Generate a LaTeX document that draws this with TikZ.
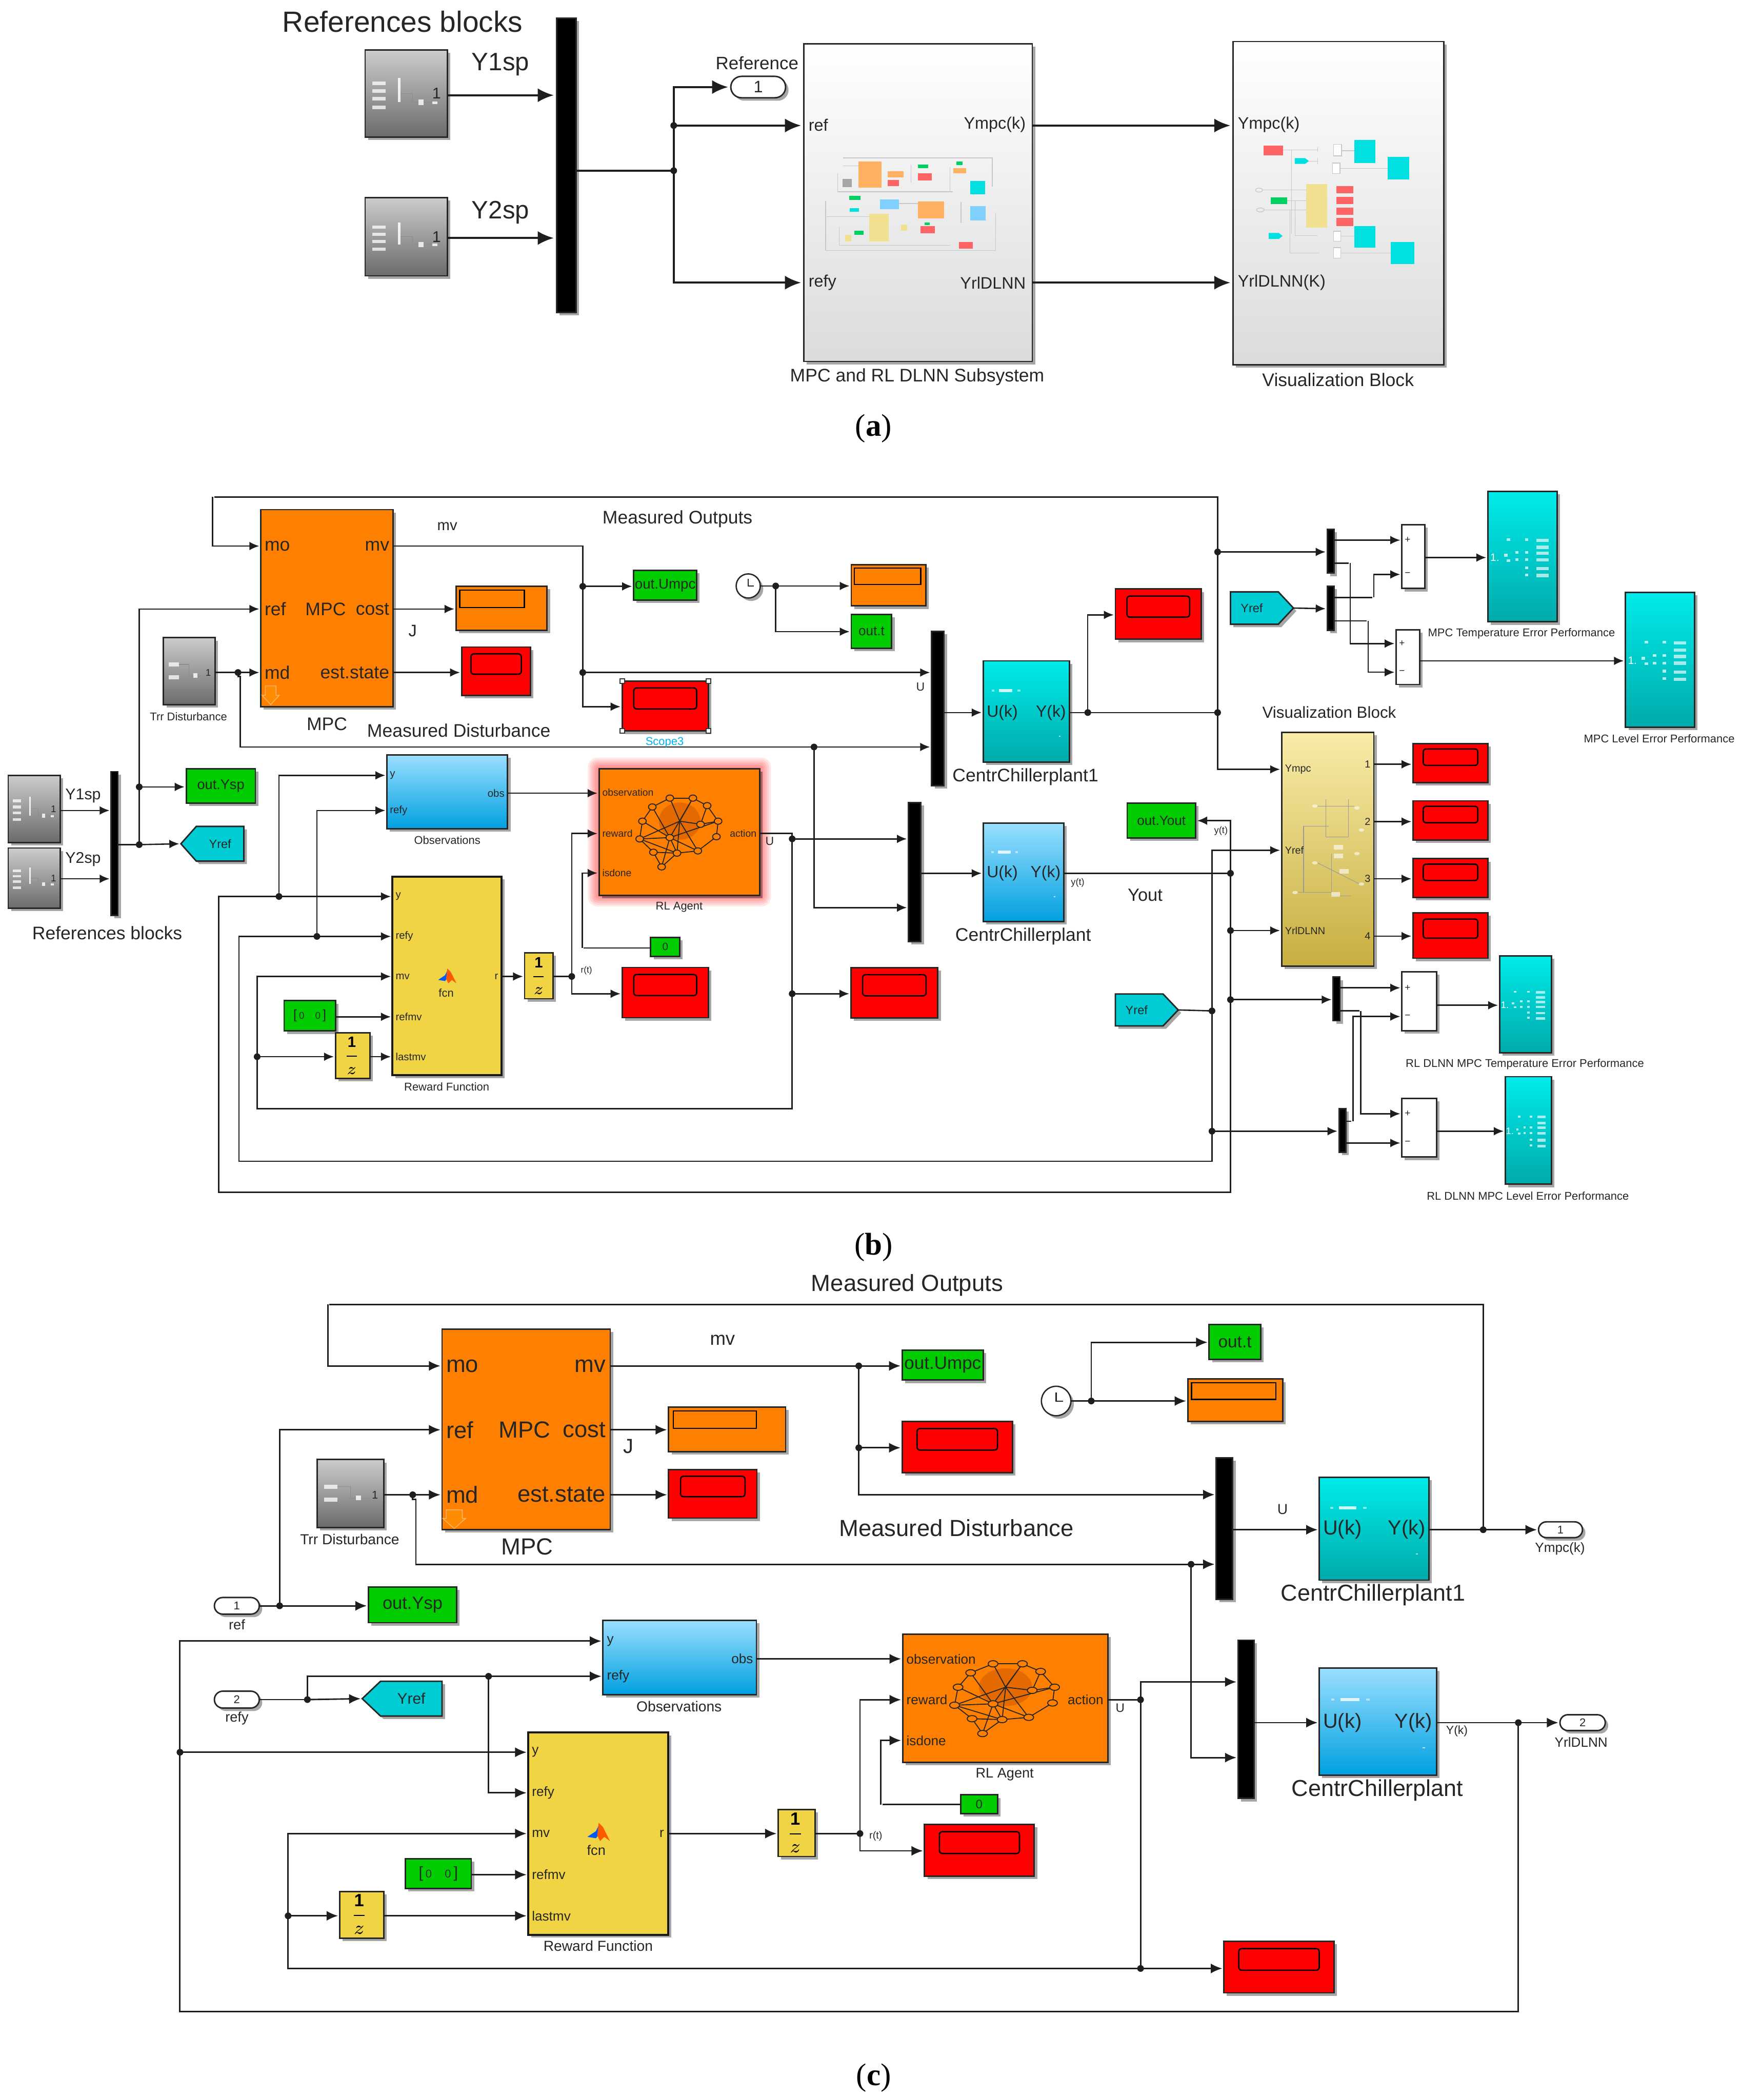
\documentclass[tikz,border=0pt]{standalone}
\usepackage{fontspec}
\setmainfont{Liberation Sans}
\newfontfamily\capf{Liberation Serif}
\usetikzlibrary{arrows.meta,shadows,shapes.misc,calc}
\definecolor{wirec}{HTML}{1E1E1E}
\definecolor{orgc}{HTML}{FF8000}
\definecolor{grnc}{HTML}{00CC00}
\definecolor{ylwc}{HTML}{F0D443}
\definecolor{gotoc}{HTML}{00CCD4}
\definecolor{cyt}{HTML}{00EBEB}
\definecolor{cyb}{HTML}{00AAAA}
\definecolor{blt}{HTML}{9ADFFF}
\definecolor{blb}{HTML}{00A0E0}
\definecolor{vit}{HTML}{F8ECA8}
\definecolor{vib}{HTML}{C8AE40}
\definecolor{thr}{HTML}{FF6464}
\definecolor{tho}{HTML}{FFB060}
\definecolor{thg}{HTML}{00D060}
\definecolor{thc}{HTML}{00E0E0}
\definecolor{thb}{HTML}{80D0FF}
\definecolor{thy}{HTML}{F0E090}
\definecolor{brd}{HTML}{D86000}
\newcommand\fs[1]{\fontsize{#1pt}{#1pt}\selectfont}
\tikzset{
  x=0.5pt,y=-0.5pt,
  shd/.style={drop shadow={shadow xshift=1.1pt,shadow yshift=-1.1pt,opacity=.35,fill=black}},
  blk/.style={draw=black!85,line width=.55pt,shd,inner sep=0pt,outer sep=0pt,text=black!85},
  graybk/.style={blk,top color=black!20,bottom color=black!58},
  cyanbk/.style={blk,top color=cyt,bottom color=cyb},
  bluebk/.style={blk,top color=blt,bottom color=blb},
  visbk/.style={blk,top color=vit,bottom color=vib},
  subbk/.style={blk,top color=white,bottom color=black!14},
  orgbk/.style={blk,fill=orgc},
  redbk/.style={blk,fill=red},
  grnbk/.style={blk,fill=grnc},
  ylwbk/.style={blk,fill=ylwc},
  whtbk/.style={blk,fill=white},
  busbk/.style={blk,fill=black},
  pill/.style={blk,fill=white,rounded rectangle},
  clk/.style={draw=black!85,line width=.5pt,fill=white,circle,shd,inner sep=0pt,outer sep=0pt},
  hnd/.style={draw=black!80,line width=.4pt,fill=white},
  faint/.style={draw=black!22,line width=.25pt},
}
\newcounter{tn}
\newcommand\tx[5]{\stepcounter{tn}\node[anchor=#3,inner sep=0pt,outer sep=0pt,text=black!85,font=\fs{#4}] (t\the\value{tn}) at (#1,#2) {#5};}
% [text]{name}{x1}{y1}{x2}{y2}{style}
\newcommand\bx[7][]{\node[#7,minimum width={(#5-#3)*0.5pt},minimum height={(#6-#4)*0.5pt}] (#2) at ({(#3+#5)/2},{(#4+#6)/2}) {#1};}
\newcommand\jn[3]{\coordinate (#1) at (#2,#3);\fill[wirec] (#1) circle[radius=1.25pt];}
\newcommand\oneoverz{$\displaystyle\frac{\mathbf{1}}{z}$}
% red display
\newcommand\rs[5]{\bx{#1}{#2}{#3}{#4}{#5}{redbk}
  \begin{scope}[shift={(#2,#3)},xscale={#4-#2},yscale={#5-#3}]
  \draw[black,line width=.5pt,rounded corners=1.1pt] (.135,.14) rectangle (.865,.56);
  \end{scope}}
% orange display: right fraction
\newcommand\os[6]{\bx{#1}{#2}{#3}{#4}{#5}{orgbk}
  \begin{scope}[shift={(#2,#3)},xscale={#4-#2},yscale={#5-#3}]
  \draw[black,line width=.45pt] (.04,.085) rectangle (#6,.48);
  \end{scope}}
% signal-builder block, 4 bars
\newcommand\gfour[6]{\bx{#1}{#2}{#3}{#4}{#5}{graybk}
  \begin{scope}[shift={(#2,#3)},xscale={#4-#2},yscale={#5-#3}]
  \foreach \yy in {.36,.45,.54,.64}{\fill[white,opacity=.75] (.09,\yy) rectangle (.25,\yy+.04);}
  \fill[white,opacity=.85] (.40,.32) rectangle (.43,.6);
  \draw[black!45,line width=.2pt] (.43,.5) -- (.58,.5) -- (.58,.6) -- (.8,.6);
  \fill[white,opacity=.8] (.65,.57) rectangle (.71,.63);
  \fill[white,opacity=.8] (.82,.59) rectangle (.88,.62);
  \node[inner sep=0pt,font=\fs{#6},text=black!85] (#1n) at (.87,.5) {1};
  \end{scope}}
% signal-builder block, 2 bars
\newcommand\gtwo[6]{\bx{#1}{#2}{#3}{#4}{#5}{graybk}
  \begin{scope}[shift={(#2,#3)},xscale={#4-#2},yscale={#5-#3}]
  \fill[white,opacity=.75] (.1,.37) rectangle (.3,.43);
  \fill[white,opacity=.75] (.1,.56) rectangle (.3,.62);
  \draw[black!45,line width=.2pt] (.3,.4) -- (.5,.4) -- (.5,.57) -- (.8,.57);
  \fill[white,opacity=.8] (.58,.53) rectangle (.66,.6);
  \node[inner sep=0pt,font=\fs{#6},text=black!85] (#1n) at (.87,.52) {1};
  \end{scope}}
% scope block with icon
\newcommand\cs[6]{\bx{#1}{#2}{#3}{#4}{#5}{cyanbk}
  \begin{scope}[shift={(#2,#3)},xscale={#4-#2},yscale={#5-#3}]
  \foreach \yy in {.363,.417,.464,.514,.579,.633}{\fill[white,opacity=.65] (.7,\yy) rectangle (.88,\yy+.024);}
  \foreach \xx/\yy in {.3/.37,.56/.37,.42/.47,.56/.47,.26/.49,.3/.53,.42/.525,.56/.525,.56/.585,.56/.64}{\fill[white,opacity=.7] (\xx-.025,\yy-.01) rectangle (\xx+.025,\yy+.01);}
  \node[inner sep=0pt,font=\fs{#6},text=white] (#1n) at (.1,.507) {1.};
  \end{scope}}
% plant block
\newcommand\pl[6]{\bx{#1}{#2}{#3}{#4}{#5}{#6}
  \begin{scope}[shift={(#2,#3)},xscale={#4-#2},yscale={#5-#3}]
  \fill[white,opacity=.8] (.18,.28) rectangle (.34,.31);
  \fill[white,opacity=.5] (.1,.285) rectangle (.13,.305);
  \fill[white,opacity=.5] (.4,.285) rectangle (.43,.305);
  \fill[white,opacity=.7] (.88,.74) rectangle (.9,.75);
  \end{scope}}
% brain network
\newcommand\brain[4]{\begin{scope}[shift={(#1,#2)},xscale={(#3-#1)/293},yscale={(#4-#2)/285},shift={(-1093,-672)}]
  \fill[brd,opacity=.7] (1240,790) ellipse (38 and 42);
  \foreach \nm/\xx/\yy in {1/1190/758,2/1222/738,3/1264/738,4/1290/755,5/1310/790,6/1307/825,7/1273/857,8/1235/862,9/1192/860,10/1167/830,11/1172/790,12/1222/827,13/1278/797,14/1207/893,15/1240/790}{\coordinate (nn\nm) at (\xx,\yy);}
  \foreach \aa/\bb in {1/2,2/3,3/4,4/5,5/6,6/7,7/8,8/9,9/10,10/11,11/1,1/12,11/12,3/12,12/14,8/14,9/14,12/7,12/8,10/12,10/8,15/7,15/13,13/5,2/15,3/15,15/8,15/10,5/12,4/13}{\draw[black!85,line width=.35pt] (nn\aa) -- (nn\bb);}
  \foreach \nm in {1,...,14}{\draw[black!85,line width=.35pt,fill=orgc] (nn\nm) ellipse (7 and 7);}
  \end{scope}}
% MATLAB icon
\newcommand\mlicon[3]{\begin{scope}[shift={(#1,#2)},scale=#3]
  \fill[blue!65!cyan] (-8,3) -- (-2,-1) -- (0,-5) -- (2,-1) -- (-2,4) -- cycle;
  \fill[orange!70!red] (0,-7) -- (3,-4) -- (8,6) -- (4,3) -- (1,6) -- (-1,2) -- cycle;
  \end{scope}}
% goto tags
\newcommand\gtl[7]{\filldraw[blk,fill=gotoc] (#2,{(#3+#5)/2}) -- (#6,#3) -- (#4,#3) -- (#4,#5) -- (#6,#5) -- cycle;
  \coordinate (#1t) at (#2,{(#3+#5)/2});
  \node[inner sep=0pt,font=\fs{#7},text=black!85] (#1) at ({(#6+#4)/2},{(#3+#5)/2}) {Yref};}
\newcommand\gtr[7]{\filldraw[blk,fill=gotoc] (#4,{(#3+#5)/2}) -- (#6,#3) -- (#2,#3) -- (#2,#5) -- (#6,#5) -- cycle;
  \coordinate (#1t) at (#4,{(#3+#5)/2});
  \node[inner sep=0pt,font=\fs{#7},text=black!85] (#1) at ({(#6+#2)/2-2},{(#3+#5)/2}) {Yref};}
\begin{document}
\begin{tikzpicture}
\fill[white] (0,0) rectangle (1299,1567.6);
\useasboundingbox (0,0) rectangle (1299,1567.6);

%================= PANEL A
\begin{scope}[w/.style={line width=.8pt,draw=wirec,shorten >=1pt},>={Latex[length=6pt,width=5.2pt]}]
\gfour{ga1}{272.5}{37.4}{333.8}{102.3}{5.8}
\gfour{ga2}{272.5}{147.5}{333.8}{205.9}{5.8}
\bx{busa}{415.3}{13.6}{430}{233.2}{busbk}
\bx{suba}{599.8}{32.7}{770.4}{269.8}{subbk}
\bx{visa}{920.2}{31}{1077.4}{272.2}{subbk}
\bx[\fs{6.2}1]{pa}{545.4}{57}{586.3}{73}{pill}
% thumbnail of the subsystem
\begin{scope}[shift={(183.3,0)},xscale=.4091,yscale=.1948]
 \draw[faint] (1090,605) -- (1362,605) -- (1362,715);
 \draw[faint] (1214,630) -- (1214,700);
 \draw[faint] (1090,636) -- (1118,636);
 \draw[faint] (1080,665) -- (1080,735) -- (1290,735);
 \draw[faint] (1058,770) -- (1058,960) -- (1368,960) -- (1368,815);
 \draw[faint] (1285,640) -- (1285,735);
 \draw[faint] (1305,775) -- (1305,855);
 \draw[faint] (1083,870) -- (1083,940) -- (1285,940);
 \draw[faint] (1060,830) -- (1138,830);
 \draw[faint] (1192,780) -- (1226,780);
 \foreach \a/\b/\c/\d in {1118/618/1160/720,1171/657/1200/680,1291/645/1314/665,1226/772/1274/836}{\fill[tho] (\a,\b) rectangle (\c,\d);}
 \foreach \a/\b/\c/\d in {1226/665/1252/691,1171/690/1192/713,1231/867/1257/893,1301/927/1327/952}{\fill[thr] (\a,\b) rectangle (\c,\d);}
 \foreach \a/\b/\c/\d in {1226/630/1245/644,1297/618/1308/632,1101/750/1122/766,1110/885/1127/899,1239/853/1248/862}{\fill[thg] (\a,\b) rectangle (\c,\d);}
 \foreach \a/\b/\c/\d in {1322/693/1349/745,1102/797/1119/812}{\fill[thc] (\a,\b) rectangle (\c,\d);}
 \foreach \a/\b/\c/\d in {1157/764/1192/802,1322/790/1350/845}{\fill[thb] (\a,\b) rectangle (\c,\d);}
 \foreach \a/\b/\c/\d in {1138/820/1173/925,1196/860/1207/885,1094/900/1105/925}{\fill[thy] (\a,\b) rectangle (\c,\d);}
 \fill[black!35] (1089,685) rectangle (1106,718);
\end{scope}
% thumbnail of the visualization block
\begin{scope}[shift={(733.2,15.3)},xscale=.2338,yscale=.1851]
 \draw[faint] (960,522) -- (1070,522);
 \draw[faint] (987,522) -- (987,860);
 \draw[faint] (895,684) -- (1033,684);
 \draw[faint] (972,727) -- (1033,727);
 \draw[faint] (900,764) -- (1033,764);
 \draw[faint] (982,764) -- (982,938) -- (1076,938);
 \draw[faint] (998,727) -- (998,868) -- (1070,868);
 \draw[faint] (1042,567) -- (1070,567);
 \draw[faint] (1144,525) -- (1187,525);
 \draw[faint] (1141,597) -- (1294,597);
 \draw[faint] (1144,870) -- (1187,870);
 \draw[faint] (1144,938) -- (1303,938);
 \draw[faint] (1070,510) -- (1070,530);
 \draw[faint] (1070,555) -- (1070,580);
 \foreach \a/\b/\c/\d in {897/504/960/543,1129/667/1184/697,1129/712/1184/740,1129/755/1184/783,1129/797/1184/829}{\fill[thr] (\a,\b) rectangle (\c,\d);}
 \foreach \a/\b/\c/\d in {1187/482/1254/575,1294/551/1362/642,1187/829/1254/916,1303/893/1379/983}{\fill[thc] (\a,\b) rectangle (\c,\d);}
 \fill[thc] (997,555) -- (1030,555) -- (1042,567) -- (1030,578) -- (997,578) -- cycle;
 \fill[thc] (914,857) -- (946,857) -- (958,869) -- (946,881) -- (914,881) -- cycle;
 \fill[thy] (1033,660) rectangle (1101,836);
 \fill[thg] (921,713) rectangle (972,740);
 \foreach \a/\b/\c/\d in {1121/500/1146/546,1118/575/1141/617,1121/850/1144/890,1121/916/1144/958}{\filldraw[faint,fill=white] (\a,\b) rectangle (\c,\d);}
 \draw[faint] (883,684) ellipse (11 and 8);
 \draw[faint] (887,764) ellipse (12 and 8);
\end{scope}
\jn{ja1}{502.8}{127.4}
\jn{ja2}{502.8}{93.7}
\draw[w,->] (ga1.east|-0,71.1) -- (busa.west|-0,71.1);
\draw[w,->] (ga2.east|-0,177.7) -- (busa.west|-0,177.7);
\draw[w] (busa.east|-ja1) -- (ja1);
\draw[w] (ja1) -- (ja2);
\draw[w,->] (ja2) |- (pa.west);
\draw[w,->] (ja2) -- (suba.west|-ja2);
\draw[w,->] (ja1) |- (suba.west|-0,211);
\draw[w,->] (suba.east|-0,93.7) -- (visa.west|-0,93.7);
\draw[w,->] (suba.east|-0,211) -- (visa.west|-0,211);
\tx{300.5}{16}{center}{10.9}{References blocks}
\tx{373.5}{48.3}{center}{9.4}{Y1sp}
\tx{373.5}{158.8}{center}{9.4}{Y2sp}
\tx{565}{47}{center}{6.7}{Reference}
\tx{603.5}{93.2}{west}{6.2}{ref}
\tx{603.5}{211}{west}{6.2}{refy}
\tx{765.5}{93.2}{east}{6.2}{Ympc(k)}
\tx{765.5}{211}{east}{6.2}{YrlDLNN}
\tx{684.5}{281.5}{center}{6.8}{MPC and RL DLNN Subsystem}
\tx{923.8}{93.2}{west}{6.2}{Ympc(k)}
\tx{923.8}{211}{west}{6.2}{YrlDLNN(K)}
\tx{998.6}{283.7}{center}{6.8}{Visualization Block}
\stepcounter{tn}\node[font=\capf\fs{11.7},inner sep=0pt] (capa) at (652,320) {(\textbf{a})};
\end{scope}

%================= PANEL B
\begin{scope}[w/.style={line width=.5pt,draw=wirec,shorten >=.6pt},>={Latex[length=3.7pt,width=3.2pt]}]
\bx{mpcb}{194.7}{380.4}{293.3}{527.5}{orgbk}
\fill[orange!70!red!70!yellow,draw=orange!60!white,line width=.3pt] (198,512) -- (198,519) -- (195.5,519) -- (202,526) -- (208.5,519) -- (206,519) -- (206,512) -- cycle;
\bx[\fs{5.3}out.Umpc]{umpcb}{472.9}{425.8}{520}{448}{grnbk}
\rs{scope3}{464.3}{508.3}{528.6}{545.7}
\foreach \xx/\yy in {464.3/508.3,528.6/508.3,464.3/545.7,528.6/545.7}{\filldraw[hnd] (\xx-1.7,\yy-1.7) rectangle (\xx+1.7,\yy+1.7);}
\os{jdb}{340.4}{437.7}{408.3}{470.5}{.75}
\rs{estb}{344.5}{483}{396}{519.2}
\gtwo{trrb}{122}{476}{160.4}{526}{3.6}
\node[clk,minimum size=18*.5pt] (clkb) at (558.4,437.4) {};
\draw[black!85,line width=.35pt] (clkb.center) ++(0,-5.5) -- (clkb.center) -- ++(4,0);
\os{odb}{635.3}{421.4}{691}{452.3}{.93}
\bx[\fs{5}out.t]{outtb}{635.3}{458.6}{665.5}{483.9}{grnbk}
\gfour{g1b}{6.1}{578.8}{45}{628.9}{3.6}
\gfour{g2b}{6.1}{633}{45}{677.9}{3.6}
\bx{busrb}{83}{576}{88}{683.2}{busbk}
\bx[\fs{5.2}out.Ysp]{yspb}{139}{573.9}{190.6}{599.4}{grnbk}
\gtl{yrb}{135}{616.9}{182}{642.8}{146.5}{4.5}
\bx{obsb}{288.8}{563.6}{378.8}{618.6}{bluebk}
\foreach \ii in {6,5,4,3,2,1}{\fill[red,opacity=.09,rounded corners=\ii*.6pt] (447.1-\ii*1.4,573.9-\ii*1.4) rectangle (567+\ii*1.4,668.3+\ii*1.4);}
\bx{rlb}{447.1}{573.9}{567}{668.3}{orgbk}
\brain{447.1}{573.9}{567}{668.3}
\bx{rwdb}{292.9}{654.3}{374.3}{802.7}{ylwbk}
\draw[black!90,line width=.8pt] (292.9,654.3) rectangle (374.3,802.7);
\mlicon{333.8}{728.9}{.85}
\bx{d2b}{391.5}{711.3}{412.8}{745.5}{ylwbk}
\node[inner sep=0pt,font=\fs{5.6}] (d2bt) at (402,728.4) {\oneoverz};
\rs{red3b}{464.3}{722.2}{528.6}{759.7}
\bx[\fs{3.9}0]{zerob}{485.6}{699.7}{507.3}{714}{grnbk}
\bx[\fs{4.8}{[\,{\color{black!80}\fs{3.6}0}\;\;\;{\color{black!80}\fs{3.6}0}\,]}]{constb}{212}{747}{250.4}{769.6}{grnbk}
\bx{delayb}{250.4}{771}{276}{805}{ylwbk}
\node[inner sep=0pt,font=\fs{5.6}] (delaybt) at (262.5,788) {\oneoverz};
\rs{red4b}{635}{722.3}{699.9}{759.9}
\bx{busub}{695.3}{471.2}{704.5}{586.6}{busbk}
\pl{plant1b}{733.8}{493.3}{798}{568.8}{cyanbk}
\rs{rd5b}{832.4}{439.7}{896.5}{477.2}
\bx{bus2b}{678}{599.2}{687.3}{702.7}{busbk}
\pl{plantb}{733.8}{614.3}{793.8}{688}{bluebk}
\bx[\fs{5}out.Yout]{youtb}{841.2}{599.6}{892.3}{625.6}{grnbk}
\bx{visb}{956.5}{546.6}{1025.3}{721.3}{visbk}
\begin{scope}[shift={(641.6,351.3)},xscale=.4193,yscale=.3507]
 \draw[black!40,line width=.2pt] (790,898) -- (790,757) -- (835,757);
 \draw[black!40,line width=.2pt] (830,700) -- (830,780) -- (870,780) -- (870,700);
 \draw[black!40,line width=.2pt] (815,714) -- (880,714);
 \draw[black!40,line width=.2pt] (840,815) -- (840,905) -- (875,905);
 \draw[black!40,line width=.2pt] (780,898) -- (840,898);
 \draw[black!40,line width=.2pt] (815,835) -- (890,880);
 \foreach \a/\b in {852/802,852/820,862/853,847/902}{\fill[white,opacity=.6] (\a-8,\b-5) rectangle (\a+8,\b+5);}
 \foreach \a/\b in {810/714,885/718,893/765,885/815,893/880,775/898,810/835}{\fill[white,opacity=.6] (\a,\b) ellipse (5 and 3.5);}
\end{scope}
\rs{r1b}{1054.6}{555}{1110.4}{584.2}
\rs{r2b}{1054.6}{597.8}{1110.4}{627}
\rs{r3b}{1054.6}{641}{1110.4}{670}
\rs{r4b}{1054.6}{681.3}{1110.4}{715.3}
\bx{busAb}{990.5}{395.1}{995.5}{427.8}{busbk}
\bx{busBb}{990.5}{437.6}{995.5}{470.5}{busbk}
\gtr{yr1b}{918.3}{441.8}{965.3}{466}{954}{4.5}
\bx{sum1b}{1046.2}{391.6}{1063.4}{439.3}{whtbk}
\bx{sum2b}{1042}{470.2}{1059.6}{510.9}{whtbk}
\cs{c1b}{1110.4}{366.7}{1162}{464.2}{4}
\cs{c2b}{1213.1}{442.1}{1264.7}{542.8}{4}
\gtr{yr2b}{832.4}{742}{879.3}{765.8}{868}{4.5}
\bx{busCb}{995}{729.4}{1000}{762}{busbk}
\bx{busDb}{999.3}{827.6}{1004.3}{860.2}{busbk}
\bx{sum3b}{1046.2}{725.5}{1072.2}{769.3}{whtbk}
\bx{sum4b}{1046.2}{819.8}{1072.2}{863.7}{whtbk}
\cs{c3b}{1119.2}{713.6}{1157.8}{785.8}{3.5}
\cs{c4b}{1123.4}{803.7}{1157.8}{884}{3.5}
% junctions
\jn{jb1}{908.7}{412}\jn{jb2}{908.7}{531.9}\jn{jb3}{434.9}{437.7}\jn{jb4}{434.9}{502}
\jn{jb5}{177.6}{502}\jn{jb6}{607.5}{557.6}\jn{jb7}{103.9}{587.4}\jn{jb8}{103.9}{630.5}
\jn{jb9}{208.2}{669.2}\jn{jb10}{236.5}{699}\jn{jb11}{918.3}{651.9}\jn{jb12}{918.3}{694.6}
\jn{jb13}{918.3}{746.2}\jn{jb14}{904.5}{754.6}\jn{jb15}{904.5}{844.4}\jn{jb16}{191.9}{788.8}
\jn{jb17}{591.2}{626.2}\jn{jb18}{591.2}{741.8}\jn{jb19}{426.7}{728.9}\jn{jb20}{811.8}{531.9}
\jn{jb21}{578.9}{437.4}
\coordinate (tb1) at (908.7,371);\coordinate (tb2) at (158.7,371);
\coordinate (cb1) at (918.3,890);\coordinate (cb2) at (163.2,890);
\coordinate (cb3) at (904.5,866.8);\coordinate (cb4) at (178.4,866.8);
\coordinate (cb5) at (434.5,707.7);\coordinate (cb6) at (591.2,827.6);\coordinate (cb7) at (191.9,827.6);
\coordinate (ca1) at (1007.7,420.4);\coordinate (ca2) at (1025.3,446);\coordinate (ca3) at (1021,463.5);
\coordinate (ca4) at (1015.6,754.6);\coordinate (ca5) at (1009.7,837);
% wires
\draw[w] (jb2) -- (tb1) -- (tb2);
\draw[w,->] (tb2) |- (mpcb.west|-0,407.6);
\draw[w,->] (jb2) |- (visb.west|-0,574.3);
\draw[w] (mpcb.east|-0,407.6) -| (jb3);
\draw[w] (jb3) -- (jb4);
\draw[w,->] (jb4) |- (scope3.west|-0,527.5);
\draw[w,->] (jb3) -- (umpcb.west|-jb3);
\draw[w,->] (jb4) -- (busub.west|-jb4);
\draw[w,->] (mpcb.east|-0,454.6) -- (jdb.west|-0,454.6);
\draw[w,->] (mpcb.east|-0,502) -- (estb.west|-0,502);
\draw[w] (trrb.east|-jb5) -- (jb5);
\draw[w,->] (jb5) -- (mpcb.west|-jb5);
\draw[w] (jb5) -- ++(0,3) -- ++(1.6,0) |- (jb6);
\draw[w,->] (jb6) -- (busub.west|-jb6);
\draw[w,->] (jb6) |- (bus2b.west|-0,677.5);
\draw[w] (busrb.east|-jb8) -- (jb8);
\draw[w] (jb8) -- (jb7);
\draw[w,->] (jb7) |- (mpcb.west|-0,454.6);
\draw[w,->] (jb7) -- (yspb.west|-jb7);
\draw[w,->] (jb8) -- (yrbt);
\draw[w,->] (g1b.east|-0,605) -- (busrb.west|-0,605);
\draw[w,->] (g2b.east|-0,656) -- (busrb.west|-0,656);
\draw[w,->] (jb9) |- (obsb.west|-0,578.8);
\draw[w,->] (jb9) -- (rwdb.west|-jb9);
\draw[w] (plantb.east|-jb11) -- (jb11);
\draw[w,->] (jb11) |- (youtb.east|-0,612.6);
\draw[w] (jb11) -- (jb13);
\draw[w] (jb13) -- (cb1) -- (cb2) |- (jb9);
\draw[w,->] (jb12) -- (visb.west|-jb12);
\draw[w,->] (jb13) -- (busCb.west|-jb13);
\draw[w] (yr2bt) -- (jb14);
\draw[w,->] (jb14) |- (visb.west|-0,634.7);
\draw[w] (jb14) -- (jb15);
\draw[w,->] (jb15) -- (busDb.west|-jb15);
\draw[w] (jb15) -- (cb3) -- (cb4) |- (jb10);
\draw[w,->] (jb10) |- (obsb.west|-0,605);
\draw[w,->] (jb10) -- (rwdb.west|-jb10);
\draw[w] (rlb.east|-0,622.2) -| (jb17);
\draw[w,->] (jb17) -- (bus2b.west|-jb17);
\draw[w] (jb17) -- (jb18);
\draw[w,->] (jb18) -- (red4b.west|-jb18);
\draw[w] (jb18) -- (cb6) -- (cb7) -- (jb16);
\draw[w,->] (jb16) |- (rwdb.west|-0,728.9);
\draw[w,->] (jb16) -- (delayb.west|-jb16);
\draw[w,->] (delayb.east|-jb16) -- (rwdb.west|-jb16);
\draw[w,->] (constb.east|-0,759) -- (rwdb.west|-0,759);
\draw[w,->] (rwdb.east|-0,728.9) -- (d2b.west|-0,728.9);
\draw[w] (d2b.east|-jb19) -- (jb19);
\draw[w,->] (jb19) |- (rlb.west|-0,622.2);
\draw[w,->] (jb19) |- (red3b.west|-0,741.8);
\draw[w] (zerob.west|-cb5) -- (cb5);
\draw[w,->] (cb5) |- (rlb.west|-0,651.7);
\draw[w,->] (obsb.east|-0,592.1) -- (rlb.west|-0,592.1);
\draw[w,->] (busub.east|-0,531.9) -- (plant1b.west|-0,531.9);
\draw[w] (plant1b.east|-jb20) -- (jb20) -- (jb2);
\draw[w,->] (jb20) |- (rd5b.west|-0,459);
\draw[w,->] (bus2b.east|-jb11) -- (plantb.west|-jb11);
\draw[w,->] (jb1) -- (busAb.west|-jb1);
\draw[w] (clkb) -- (jb21);
\draw[w,->] (jb21) -- (odb.west|-jb21);
\draw[w,->] (jb21) |- (outtb.west|-0,471.5);
\draw[w,->] (visb.east|-0,570.5) -- (r1b.west|-0,570.5);
\draw[w,->] (visb.east|-0,613.3) -- (r2b.west|-0,613.3);
\draw[w,->] (visb.east|-0,656) -- (r3b.west|-0,656);
\draw[w,->] (visb.east|-0,698.8) -- (r4b.west|-0,698.8);
\draw[w,->] (busAb.east|-0,403.2) -- (sum1b.west|-0,403.2);
\draw[w] (busAb.east|-ca1) -- (ca1);
\draw[w,->] (ca1) |- (sum2b.west|-0,480.4);
\draw[w,->] (yr1bt) -- (busBb.west|-0,454.4);
\draw[w] (busBb.east|-ca2) -- (ca2);
\draw[w,->] (ca2) |- (sum1b.west|-0,428.8);
\draw[w] (busBb.east|-ca3) -- (ca3);
\draw[w,->] (ca3) |- (sum2b.west|-0,501.8);
\draw[w,->] (sum1b.east|-0,416.2) -- (c1b.west|-0,416.2);
\draw[w,->] (sum2b.east|-0,493.3) -- (c2b.west|-0,493.3);
\draw[w,->] (busCb.east|-0,737.4) -- (sum3b.west|-0,737.4);
\draw[w] (busCb.east|-ca4) -- (ca4);
\draw[w,->] (ca4) |- (sum4b.west|-0,831.4);
\draw[w] (busDb.east|-ca5) -- (ca5);
\draw[w,->] (ca5) |- (sum3b.west|-0,758.8);
\draw[w,->] (busDb.east|-0,853.2) -- (sum4b.west|-0,853.2);
\draw[w,->] (sum3b.east|-0,750.4) -- (c3b.west|-0,750.4);
\draw[w,->] (sum4b.east|-0,844.4) -- (c4b.west|-0,844.4);
% texts
\tx{197.5}{407.6}{west}{6.8}{mo}
\tx{197.5}{454.6}{west}{6.8}{ref}
\tx{197.5}{502}{west}{6.8}{md}
\tx{290.5}{407.6}{east}{6.8}{mv}
\tx{290.5}{454.6}{east}{6.8}{cost}
\tx{290.5}{502}{east}{6.8}{est.state}
\tx{243}{454.6}{center}{6.8}{MPC}
\tx{333.8}{393}{center}{5.6}{mv}
\tx{505.6}{387.4}{center}{6.8}{Measured Outputs}
\tx{308}{470.9}{center}{6.2}{J}
\tx{140.7}{534.8}{center}{4.2}{Trr Disturbance}
\tx{244}{540.4}{center}{6.8}{MPC}
\tx{342.4}{545.4}{center}{6.8}{Measured Disturbance}
\stepcounter{tn}\node[inner sep=0pt,font=\fs{4.2},text={rgb,255:red,0;green,176;blue,240}] (t\the\value{tn}) at (496,554.3) {Scope3};
\tx{62}{594}{center}{5.8}{Y1sp}
\tx{62}{641.4}{center}{5.8}{Y2sp}
\tx{80}{696.4}{center}{6.8}{References blocks}
\tx{291}{578.8}{west}{3.9}{y}
\tx{291}{605}{west}{3.9}{refy}
\tx{376.5}{592.1}{east}{3.9}{obs}
\tx{333.8}{627.2}{center}{4.2}{Observations}
\tx{449.5}{591.7}{west}{3.7}{observation}
\tx{449.5}{622.2}{west}{3.7}{reward}
\tx{449.5}{651.7}{west}{3.7}{isdone}
\tx{564.5}{622.2}{east}{3.7}{action}
\tx{506.9}{677.2}{center}{4.2}{RL Agent}
\tx{574.4}{628}{center}{4.4}{U}
\tx{295.3}{669.2}{west}{3.9}{y}
\tx{295.3}{699}{west}{3.9}{refy}
\tx{295.3}{728.9}{west}{3.9}{mv}
\tx{295.3}{759}{west}{3.9}{refmv}
\tx{295.3}{788.8}{west}{3.9}{lastmv}
\tx{371.8}{728.9}{east}{3.9}{r}
\tx{333}{741}{center}{4.2}{fcn}
\tx{333.4}{811.3}{center}{4.2}{Reward Function}
\tx{437.7}{724.6}{center}{3.3}{r(t)}
\tx{686.9}{512.6}{center}{4.4}{U}
\tx{736.5}{531.9}{west}{6.1}{U(k)}
\tx{795.5}{531.9}{east}{6.1}{Y(k)}
\tx{765.3}{580}{center}{6.8}{CentrChillerplant1}
\tx{736.5}{651.9}{west}{6.1}{U(k)}
\tx{791.5}{651.9}{east}{6.1}{Y(k)}
\tx{763.6}{699}{center}{6.8}{CentrChillerplant}
\tx{804.3}{658.9}{center}{3.5}{y(t)}
\tx{911.2}{620.3}{center}{3.5}{y(t)}
\tx{854.6}{668.3}{center}{6.6}{Yout}
\tx{992}{531.6}{center}{6}{Visualization Block}
\tx{959}{574.3}{west}{3.8}{Ympc}
\tx{959}{634.7}{west}{3.8}{Yref}
\tx{959}{694.6}{west}{3.8}{YrlDLNN}
\tx{1022.8}{570.5}{east}{3.8}{1}
\tx{1022.8}{613.3}{east}{3.8}{2}
\tx{1022.8}{656}{east}{3.8}{3}
\tx{1022.8}{698.8}{east}{3.8}{4}
\tx{1050.5}{403.2}{center}{3.6}{+}
\tx{1050.5}{428.8}{center}{3.6}{−}
\tx{1046.3}{480.4}{center}{3.6}{+}
\tx{1046.3}{501.8}{center}{3.6}{−}
\tx{1050.5}{737.4}{center}{3.6}{+}
\tx{1050.5}{758.8}{center}{3.6}{−}
\tx{1050.5}{831.4}{center}{3.6}{+}
\tx{1050.5}{853.2}{center}{3.6}{−}
\tx{1135.5}{473}{center}{4.2}{MPC Temperature Error Performance}
\tx{1238.3}{551.5}{center}{4.2}{MPC Level Error Performance}
\tx{1138}{794.6}{center}{4.2}{RL DLNN MPC Temperature Error Performance}
\tx{1140.2}{892.8}{center}{4.2}{RL DLNN MPC Level Error Performance}
\stepcounter{tn}\node[font=\capf\fs{11.7},inner sep=0pt] (capb) at (652,931) {(\textbf{b})};
\end{scope}

%================= PANEL C
\begin{scope}[w/.style={line width=.55pt,draw=wirec,shorten >=.6pt},>={Latex[length=4.3pt,width=3.7pt]}]
\bx{mpcc}{329.9}{992.2}{455.4}{1141.7}{orgbk}
\fill[orange!70!red!70!yellow,draw=orange!60!white,line width=.3pt] (333,1127) -- (333,1133.5) -- (330.5,1133.5) -- (339,1141) -- (347.5,1133.5) -- (345,1133.5) -- (345,1127) -- cycle;
\bx[\fs{6.7}out.Umpc]{umpcc}{673.3}{1007.8}{733.8}{1030.2}{grnbk}
\rs{redmv}{673.3}{1061}{755.5}{1099.3}
\os{jdc}{499}{1050.3}{586.3}{1083.6}{.75}
\rs{estc}{499}{1096.9}{564.9}{1133.2}
\gtwo{trrc}{236.8}{1089.5}{286.3}{1140.2}{4.2}
\node[clk,minimum size=22*.5pt] (clkc) at (788.2,1045.8) {};
\draw[black!85,line width=.4pt] (clkc.center) ++(0,-6.5) -- (clkc.center) -- ++(5,0);
\os{odc}{886.4}{1029.4}{957.2}{1061}{.93}
\bx[\fs{6.4}out.t]{outtc}{902.4}{988.8}{940.8}{1014.6}{grnbk}
\bx[\fs{4.2}1]{prf}{160}{1192.5}{193.5}{1204.9}{pill}
\bx[\fs{4.2}2]{pry}{160}{1262.4}{193.5}{1275}{pill}
\bx[\fs{6.6}out.Ysp]{yspc}{275}{1184.7}{340.8}{1211.3}{grnbk}
\gtl{yrc}{270.3}{1255}{329.9}{1281}{284}{5.7}
\bx{obsc}{450}{1209.5}{564.5}{1265}{bluebk}
\bx{rlc}{673.7}{1219.8}{826.7}{1315.5}{orgbk}
\brain{673.7}{1219.8}{826.7}{1315.5}
\bx{rwdc}{394.2}{1293.1}{498.7}{1444.2}{ylwbk}
\draw[black!90,line width=.8pt] (394.2,1293.1) rectangle (498.7,1444.2);
\mlicon{446.8}{1368}{1.05}
\bx{d2c}{580.8}{1350.8}{608.2}{1385.8}{ylwbk}
\node[inner sep=0pt,font=\fs{6.6}] (d2ct) at (593.5,1368) {\oneoverz};
\rs{redr}{690}{1361.9}{771.9}{1400.6}
\bx[\fs{4.6}0]{zeroc}{717}{1339.8}{744.4}{1353.9}{grnbk}
\bx[\fs{5.8}{[\,{\color{black!80}\fs{4.2}0}\;\;\;{\color{black!80}\fs{4.2}0}\,]}]{constc}{302.6}{1387.5}{351.7}{1409.8}{grnbk}
\bx{delc}{253.5}{1412}{286.3}{1446.8}{ylwbk}
\node[inner sep=0pt,font=\fs{6.6}] (delct) at (268,1429) {\oneoverz};
\rs{redbot}{913.4}{1449.2}{995.6}{1487.6}
\bx{busuc}{907.7}{1088.3}{920}{1193.9}{busbk}
\pl{plant1c}{984.6}{1102.8}{1066.4}{1179.5}{cyanbk}
\bx{bus2c}{924}{1224.3}{936}{1342.5}{busbk}
\pl{plantc}{984.6}{1245.2}{1072.2}{1325}{bluebk}
\bx[\fs{4.2}1]{pym}{1148.2}{1136}{1181}{1147.8}{pill}
\bx[\fs{4.2}2]{pyd}{1164.2}{1280}{1198}{1291.8}{pill}
% junctions
\jn{jc1}{1106.9}{1141.9}\jn{jc2}{640.9}{1019.6}\jn{jc3}{640.9}{1080.7}\jn{jc4}{134.3}{1308}
\jn{jc5}{1133.1}{1285.9}\jn{jc6}{229.4}{1268.7}\jn{jc7}{364.6}{1251.3}\jn{jc8}{215}{1430.1}
\jn{jc9}{851.2}{1268.8}\jn{jc10}{851.2}{1469.4}\jn{jc11}{308}{1115.8}\jn{jc12}{888.9}{1167.7}
\jn{jc13}{641.8}{1368.7}\jn{jc14}{208.7}{1198.7}\jn{jc15}{814.4}{1045.8}
\coordinate (cc1) at (1106.9,973.7);\coordinate (cc2) at (244.6,973.7);
\coordinate (cc3) at (1133.1,1501.7);\coordinate (cc4) at (134.3,1501.7);
\coordinate (cc5) at (657.3,1347);\coordinate (cc6) at (215,1469.4);
% wires
\draw[w] (jc1) -- (cc1) -- (cc2);
\draw[w,->] (cc2) |- (mpcc.west|-0,1019.6);
\draw[w] (plant1c.east|-jc1) -- (jc1);
\draw[w,->] (jc1) -- (pym.west|-jc1);
\draw[w] (mpcc.east|-jc2) -- (jc2);
\draw[w,->] (jc2) -- (umpcc.west|-jc2);
\draw[w] (jc2) -- (jc3);
\draw[w,->] (jc3) -- (redmv.west|-jc3);
\draw[w,->] (jc3) |- (busuc.west|-0,1115.7);
\draw[w,->] (mpcc.east|-0,1067.3) -- (jdc.west|-0,1067.3);
\draw[w,->] (mpcc.east|-0,1115.8) -- (estc.west|-0,1115.8);
\draw[w] (trrc.east|-jc11) -- (jc11);
\draw[w,->] (jc11) -- (mpcc.west|-jc11);
\draw[w] (jc11) -- ++(0,3.5) -- ++(2.4,0) |- (jc12);
\draw[w,->] (jc12) -- (busuc.west|-jc12);
\draw[w,->] (jc12) |- (bus2c.west|-0,1312);
\draw[w] (prf.east|-jc14) -- (jc14);
\draw[w,->] (jc14) |- (mpcc.west|-0,1067.3);
\draw[w,->] (jc14) -- (yspc.west|-jc14);
\draw[w,->] (jc4) |- (obsc.west|-0,1225);
\draw[w,->] (jc4) -- (rwdc.west|-jc4);
\draw[w] (plantc.east|-jc5) -- (jc5);
\draw[w,->] (jc5) -- (pyd.west|-jc5);
\draw[w] (jc5) -- (cc3) -- (cc4) -- (jc4);
\draw[w] (pry.east|-jc6) -- (jc6);
\draw[w,->] (jc6) -- (yrct);
\draw[w] (jc6) |- (jc7);
\draw[w,->] (jc7) -- (obsc.west|-jc7);
\draw[w,->] (jc7) |- (rwdc.west|-0,1338.3);
\draw[w,->] (jc8) |- (rwdc.west|-0,1368.7);
\draw[w,->] (jc8) -- (delc.west|-jc8);
\draw[w,->] (delc.east|-jc8) -- (rwdc.west|-jc8);
\draw[w,->] (constc.east|-0,1399.4) -- (rwdc.west|-0,1399.4);
\draw[w] (rlc.east|-jc9) -- (jc9);
\draw[w,->] (jc9) |- (bus2c.west|-0,1255.5);
\draw[w] (jc9) -- (jc10);
\draw[w,->] (jc10) -- (redbot.west|-jc10);
\draw[w] (jc10) -- (cc6) -- (jc8);
\draw[w,->] (rwdc.east|-0,1368.7) -- (d2c.west|-0,1368.7);
\draw[w] (d2c.east|-jc13) -- (jc13);
\draw[w,->] (jc13) |- (rlc.west|-0,1268.8);
\draw[w,->] (jc13) |- (redr.west|-0,1381.6);
\draw[w] (zeroc.west|-cc5) -- (cc5);
\draw[w,->] (cc5) |- (rlc.west|-0,1299.2);
\draw[w,->] (obsc.east|-0,1238.3) -- (rlc.west|-0,1238.3);
\draw[w,->] (busuc.east|-0,1141.9) -- (plant1c.west|-0,1141.9);
\draw[w,->] (bus2c.east|-jc5) -- (plantc.west|-jc5);
\draw[w] (clkc) -- (jc15);
\draw[w,->] (jc15) -- (odc.west|-jc15);
\draw[w,->] (jc15) |- (outtc.west|-0,1002);
% texts
\tx{333}{1019.6}{west}{8.7}{mo}
\tx{333}{1067.3}{west}{8.7}{ref}
\tx{333}{1115.8}{west}{8.7}{md}
\tx{452}{1019.6}{east}{8.7}{mv}
\tx{452}{1067.3}{east}{8.7}{cost}
\tx{452}{1115.8}{east}{8.7}{est.state}
\tx{391.5}{1067.3}{center}{8.7}{MPC}
\tx{539.2}{1000.3}{center}{7}{mv}
\tx{677}{959.5}{center}{8.7}{Measured Outputs}
\tx{469}{1079.5}{center}{7.6}{J}
\tx{261}{1149}{center}{5.4}{Trr Disturbance}
\tx{393.4}{1154.7}{center}{8.7}{MPC}
\tx{713.8}{1140.7}{center}{8.7}{Measured Disturbance}
\tx{176.8}{1212.8}{center}{5.2}{ref}
\tx{176.8}{1282.8}{center}{5.2}{refy}
\tx{453}{1225}{west}{5}{y}
\tx{453}{1251.3}{west}{5}{refy}
\tx{562}{1238.3}{east}{5}{obs}
\tx{506.8}{1273.9}{center}{5.4}{Observations}
\tx{676.5}{1238.4}{west}{5}{observation}
\tx{676.5}{1268.8}{west}{5}{reward}
\tx{676.5}{1299.2}{west}{5}{isdone}
\tx{823.5}{1268.8}{east}{5}{action}
\tx{749.8}{1324.6}{center}{5.2}{RL Agent}
\tx{836}{1274.9}{center}{4.6}{U}
\tx{397}{1308}{west}{5}{y}
\tx{397}{1338.3}{west}{5}{refy}
\tx{397}{1368.7}{west}{5}{mv}
\tx{397}{1399.4}{west}{5}{refmv}
\tx{397}{1430.1}{west}{5}{lastmv}
\tx{495.5}{1368.7}{east}{5}{r}
\tx{445}{1381}{center}{5.2}{fcn}
\tx{446.4}{1452.7}{center}{5.4}{Reward Function}
\tx{653.6}{1370.6}{center}{3.8}{r(t)}
\tx{957.2}{1126.7}{center}{5.4}{U}
\tx{987.5}{1141.9}{west}{7.6}{U(k)}
\tx{1063.8}{1141.9}{east}{7.6}{Y(k)}
\tx{1024.7}{1190.5}{center}{8.6}{CentrChillerplant1}
\tx{987.5}{1285.9}{west}{7.6}{U(k)}
\tx{1068.8}{1285.9}{east}{7.6}{Y(k)}
\tx{1028}{1336.4}{center}{8.6}{CentrChillerplant}
\tx{1087.3}{1292.3}{center}{4.4}{Y(k)}
\tx{1164.2}{1156}{center}{5}{Ympc(k)}
\tx{1180}{1300.3}{center}{5}{YrlDLNN}
\fill[white] (1200.4,1293) rectangle (1215,1308);
\stepcounter{tn}\node[font=\capf\fs{11.7},inner sep=0pt] (capc) at (652,1551) {(\textbf{c})};
\end{scope}
\end{tikzpicture}
\end{document}
